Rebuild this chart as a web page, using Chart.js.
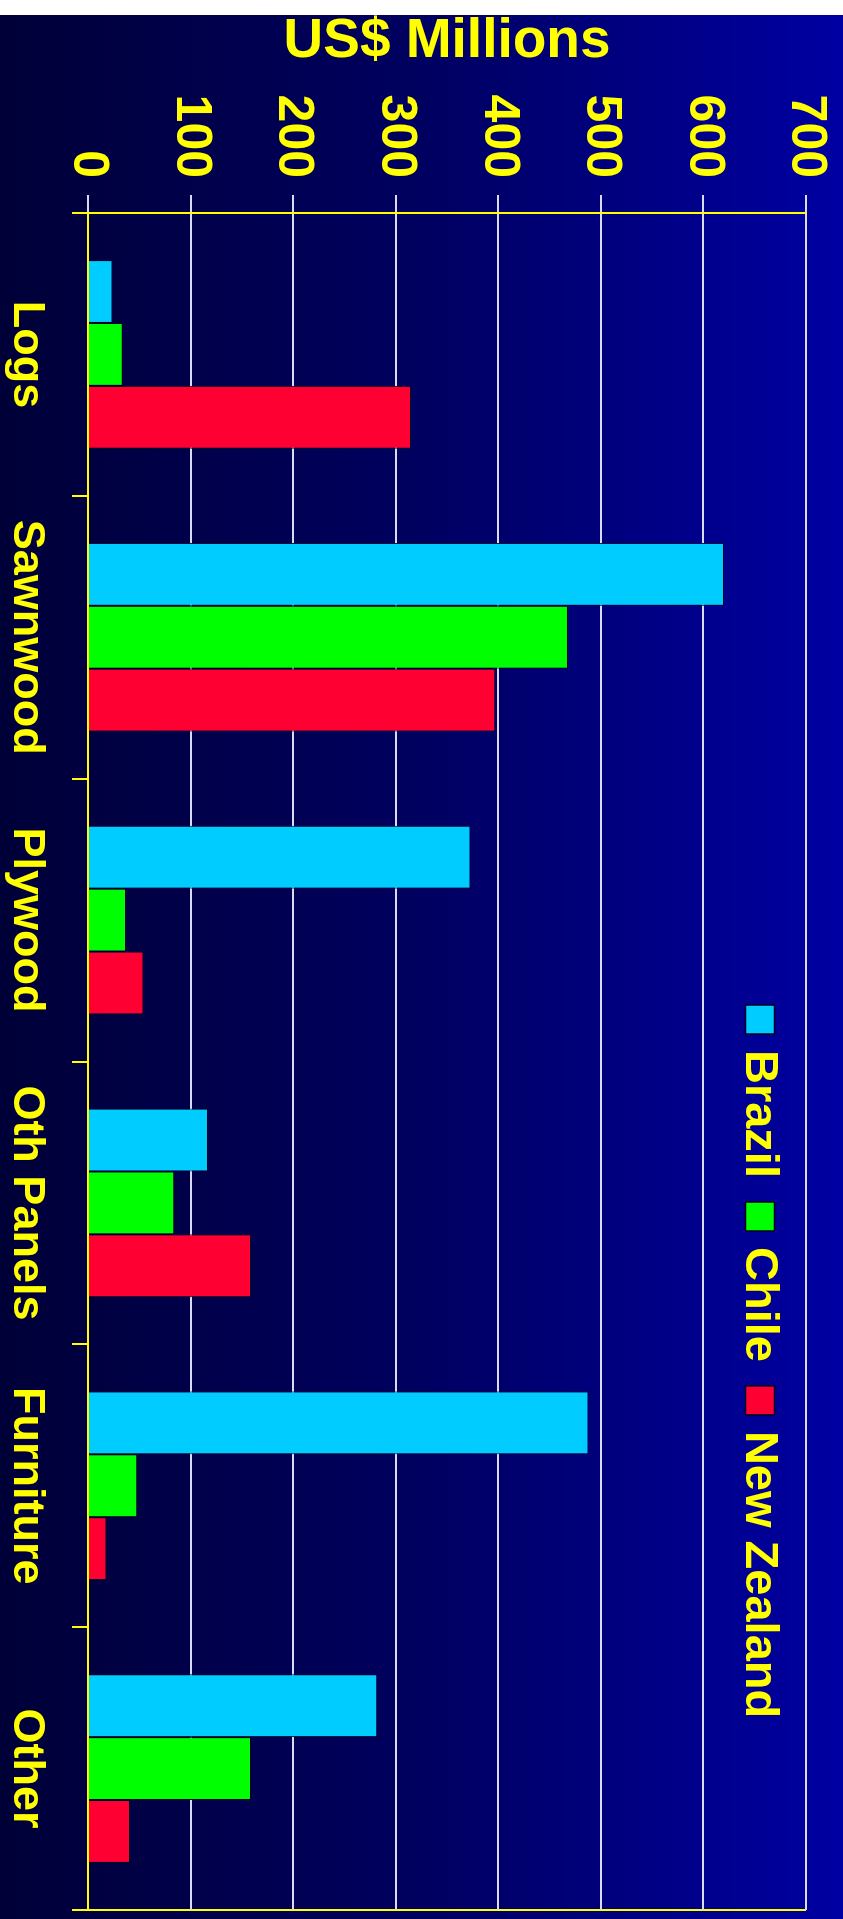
<!DOCTYPE html>
<html>
<head>
<meta charset="utf-8">
<script src="https://cdn.jsdelivr.net/npm/chart.js@4.4.0/dist/chart.umd.min.js"></script>
<style>
  html, body { margin:0; padding:0; background:#fff; overflow:hidden; width:843px; height:1919px; }
  /* chart is drawn upright (1904 x 843) and turned a quarter clockwise onto the page */
  #chart { position:absolute; left:0; top:0; transform-origin:0 0; transform:translate(843px, 15px) rotate(90deg); }
</style>
</head>
<body>
<canvas id="chart" width="1904" height="843"></canvas>
<script>
var categories = ['Logs', 'Sawnwood', 'Plywood', 'Oth Panels', 'Furniture', 'Other'];
var brazil = [24, 620, 373, 117, 488, 282];
var chile = [34, 468, 37, 84, 48, 159];
var newZealand = [315, 397, 54, 159, 18, 41];
var valueTicks = [0, 100, 200, 300, 400, 500, 600, 700];

var yellow = '#ffff00';
var gridWhite = '#dadaf2';
var fontFamily = '"Liberation Sans", Arial, sans-serif';

// dark-to-blue backdrop
var backdrop = {
  id: 'backdrop',
  beforeDraw: function(chart){
    var ctx = chart.ctx;
    var g = ctx.createLinearGradient(0, chart.height, 0, 0);
    g.addColorStop(0, '#000038');
    g.addColorStop(0.5, '#000060');
    g.addColorStop(1, '#0000a2');
    ctx.save();
    ctx.fillStyle = g;
    ctx.fillRect(0, 0, chart.width, chart.height);
    ctx.restore();
  }
};

// legend sits inside the plot, near the 700 line
var inPlotLegend = {
  id: 'inPlotLegend',
  afterDraw: function(chart){
    var ctx = chart.ctx;
    var x = 990, cy = 83, box = 29;
    ctx.save();
    ctx.font = 'bold 47px ' + fontFamily;
    ctx.textBaseline = 'middle';
    chart.data.datasets.forEach(function(ds){
      ctx.fillStyle = ds.backgroundColor;
      ctx.fillRect(x, cy - box / 2, box, box);
      ctx.strokeStyle = '#000020';
      ctx.lineWidth = 1.5;
      ctx.strokeRect(x, cy - box / 2, box, box);
      x += box + 16;
      ctx.fillStyle = yellow;
      ctx.fillText(ds.label, x, cy + 1);
      x += ctx.measureText(ds.label).width + 24;
    });
    ctx.restore();
  }
};

// keep the plot box exactly where the slide had it
function noEdgePadding(scale){
  scale.paddingTop = 0;
  scale.paddingBottom = 0;
  scale.paddingLeft = 0;
  scale.paddingRight = 0;
}

new Chart(document.getElementById('chart'), {
  type: 'bar',
  data: {
    labels: categories,
    datasets: [
      { label: 'Brazil', data: brazil, backgroundColor: '#00ccff' },
      { label: 'Chile', data: chile, backgroundColor: '#00ff00' },
      { label: 'New Zealand', data: newZealand, backgroundColor: '#ff0033' }
    ]
  },
  options: {
    responsive: false,
    animation: false,
    layout: { padding: { top: 37, right: 9, left: 0, bottom: 0 } },
    datasets: {
      bar: { categoryPercentage: 0.667, barPercentage: 1.0, borderWidth: 1, borderColor: '#000020' }
    },
    plugins: {
      legend: { display: false },
      tooltip: { enabled: false }
    },
    scales: {
      x: {
        afterFit: function(scale){ scale.height = 88; noEdgePadding(scale); },
        grid: {
          offset: true,
          lineWidth: 2,
          tickLength: 16,
          tickColor: yellow,
          color: function(c){ return (c.index === 0 || c.type === 'scale') ? yellow : 'rgba(0,0,0,0)'; }
        },
        border: { display: true, color: yellow, width: 2 },
        ticks: {
          color: yellow,
          padding: 19,
          maxRotation: 0,
          autoSkip: false,
          font: { family: fontFamily, size: 45, weight: 'bold' }
        }
      },
      y: {
        min: 0,
        max: 700,
        afterFit: function(scale){ scale.width = 198; noEdgePadding(scale); },
        afterBuildTicks: function(scale){ scale.ticks = valueTicks.map(function(v){ return { value: v }; }); },
        grid: { color: gridWhite, lineWidth: 2, tickLength: 18, tickColor: gridWhite },
        border: { display: true, color: yellow, width: 2 },
        ticks: {
          color: yellow,
          padding: 17,
          font: { family: fontFamily, size: 50, weight: 'bold' }
        },
        title: {
          display: true,
          text: 'US$ Millions',
          color: yellow,
          padding: { top: 0, bottom: 0 },
          font: { family: fontFamily, size: 55, weight: 'bold', lineHeight: 0.96 }
        }
      }
    }
  },
  plugins: [backdrop, inPlotLegend]
});
</script>
</body>
</html>
